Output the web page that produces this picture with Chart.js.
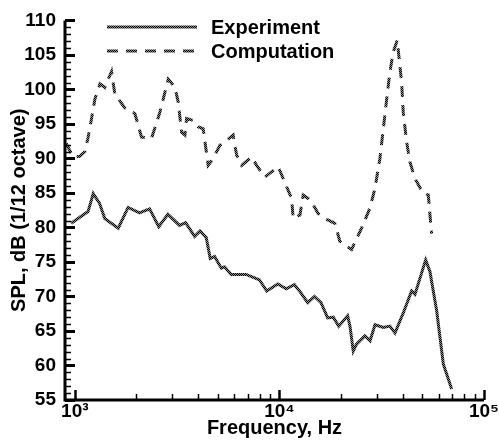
<!DOCTYPE html>
<html>
<head>
<meta charset="utf-8">
<script src="https://cdn.jsdelivr.net/npm/chart.js@4.4.1/dist/chart.umd.min.js"></script>
<style>
html, body { margin: 0; padding: 0; background: #fff; }
#wrap { width: 499px; height: 440px; }
</style>
</head>
<body>
<div id="wrap"><canvas id="chart"></canvas></div>
<script>
// values
const expLabel = 'Experiment';
const expFreq = [960, 1160, 1230, 1320, 1400, 1630, 1820, 2070, 2320, 2570,
    2850, 3250, 3480, 3850, 4100, 4390, 4590, 4820, 5200, 5390,
    5810, 6880, 7990, 8670, 9820, 10790, 11840, 12530, 13750, 14830,
    15970, 17210, 18340, 19490, 21550, 22130, 22960, 23820, 26190, 27740,
    29330, 32210, 34680, 36720, 40310, 44280, 45980, 51880, 54450, 58740,
    63300, 69500];
const expSpl = [80.6, 82.3, 84.9, 83.5, 81.3, 79.9, 82.9, 82.1, 82.7, 80.1,
    81.9, 80.3, 80.7, 78.7, 79.5, 78.5, 75.5, 75.8, 74.1, 74.3,
    73.2, 73.2, 72.4, 70.8, 71.8, 71.1, 71.7, 70.8, 69.1, 70.0,
    69.1, 66.9, 67.0, 65.7, 67.2, 65.7, 62.1, 63.1, 64.3, 63.6,
    65.9, 65.5, 65.7, 64.7, 67.6, 70.8, 70.3, 75.3, 73.6, 67.9,
    60.2, 56.6];

const compLabel = 'Computation';
const compFreq = [905, 982, 1058, 1120, 1160, 1207, 1253, 1326, 1402, 1511,
    1569, 1661, 1757, 1965, 2118, 2370, 2605, 2861, 3084, 3200,
    3325, 3452, 3518, 3789, 4006, 4240, 4485, 4748, 5118, 5410,
    5940, 6176, 6535, 7314, 7738, 8496, 9858, 10430, 11470, 11680,
    12600, 13070, 13820, 14360, 15480, 16680, 18660, 19750, 22530, 25210,
    27700, 29330, 30990, 32210, 33450, 34680, 35980, 37660, 39550, 40310,
    41860, 43460, 45980, 50470, 53460, 54450, 55480];
const compSpl = [92.2, 90.2, 90.3, 91.0, 93.0, 95.8, 98.6, 100.8, 100.3, 102.6,
    99.3, 98.3, 97.3, 96.5, 93.1, 92.9, 96.7, 101.5, 100.3, 98.2,
    93.8, 93.4, 95.8, 95.5, 94.6, 94.3, 89.0, 90.0, 91.9, 92.4,
    93.4, 90.5, 89.0, 90.2, 89.0, 87.3, 88.8, 87.1, 84.2, 81.3,
    81.8, 84.7, 84.2, 83.7, 82.0, 81.3, 80.6, 78.0, 76.8, 79.9,
    82.8, 85.7, 90.0, 94.3, 98.6, 102.5, 105.4, 107.1, 101.1, 96.7,
    92.4, 89.5, 87.1, 84.9, 84.7, 81.8, 79.1];

const yTicks = [55, 60, 65, 70, 75, 80, 85, 90, 95, 100, 105, 110];
const xTickLabels = { 1000: '10\u00B3', 10000: '10\u2074', 100000: '10\u2075' };

const tickFont = { family: 'Liberation Sans', size: 19, weight: 'bold' };
const titleFont = { family: 'Liberation Sans', size: 20, weight: 'bold' };

function zip(xs, ys) {
    return xs.map((x, i) => ({ x: x, y: ys[i] }));
}

// textured stroke like the original hatched lines
function hatch() {
    const c = document.createElement('canvas');
    c.width = 2; c.height = 2;
    const g = c.getContext('2d');
    g.fillStyle = '#000'; g.fillRect(0, 0, 2, 2);
    g.fillStyle = '#8a8a8a'; g.fillRect(1, 0, 1, 1); g.fillRect(0, 1, 1, 1);
    return g.createPattern(c, 'repeat');
}

const ctx = document.getElementById('chart').getContext('2d');
const pat = hatch();

const axesPlugin = {
    id: 'axes',
    afterDraw(chart) {
        const { ctx, chartArea: a, scales: { x, y } } = chart;
        ctx.save();
        ctx.strokeStyle = '#000';
        // y ticks (inside)
        for (let v = 55; v <= 110; v++) {
            const py = Math.round(y.getPixelForValue(v)) + 0.5;
            const major = v % 5 === 0;
            ctx.lineWidth = major ? 3 : 1.5;
            ctx.beginPath();
            ctx.moveTo(a.left, py);
            ctx.lineTo(a.left + (major ? 10 : 6), py);
            ctx.stroke();
        }
        // x ticks (inside)
        for (let e = 2; e <= 5; e++) {
            for (let m = 1; m <= 9; m++) {
                const v = m * Math.pow(10, e);
                if (v < x.min || v > x.max) continue;
                const px = Math.round(x.getPixelForValue(v)) + 0.5;
                const major = m === 1;
                ctx.lineWidth = major ? 2.5 : 1.5;
                ctx.beginPath();
                ctx.moveTo(px, a.bottom);
                ctx.lineTo(px, a.bottom - (major ? 10 : 6));
                ctx.stroke();
            }
        }
        // axis lines
        ctx.lineWidth = 3;
        ctx.beginPath();
        ctx.moveTo(a.left, a.top);
        ctx.lineTo(a.left, a.bottom);
        ctx.lineTo(a.right, a.bottom);
        ctx.stroke();

        // legend inside the plot
        const items = chart.data.datasets;
        ctx.font = 'bold 20px "Liberation Sans"';
        ctx.fillStyle = '#000';
        ctx.textBaseline = 'middle';
        items.forEach((ds, i) => {
            const ly = 27 + i * 24;
            ctx.strokeStyle = ds.borderColor;
            ctx.lineWidth = ds.borderWidth;
            ctx.setLineDash(ds.borderDash || []);
            ctx.beginPath();
            ctx.moveTo(107, ly);
            ctx.lineTo(197, ly);
            ctx.stroke();
            ctx.setLineDash([]);
            ctx.fillText(ds.label, 211, ly + 1);
        });
        ctx.restore();
    }
};

const myChart = new Chart(ctx, {
    type: 'line',
    data: {
        datasets: [{
            label: expLabel,
            data: zip(expFreq, expSpl),
            borderColor: pat,
            borderWidth: 3,
            pointRadius: 0,
            tension: 0,
            fill: false
        }, {
            label: compLabel,
            data: zip(compFreq, compSpl),
            borderColor: pat,
            borderWidth: 3,
            borderDash: [11, 8],
            pointRadius: 0,
            tension: 0,
            fill: false
        }]
    },
    options: {
        responsive: true,
        maintainAspectRatio: false,
        animation: false,
        layout: { padding: { left: 0, right: 13, top: 18, bottom: 0 } },
        plugins: {
            legend: { display: false },
            tooltip: { enabled: false }
        },
        scales: {
            x: {
                type: 'logarithmic',
                min: 895,
                max: 100000,
                grid: { display: false, drawTicks: false },
                border: { display: false },
                afterFit: s => { s.height = 40; },
                ticks: {
                    autoSkip: false,
                    maxRotation: 0,
                    padding: 0,
                    color: '#000',
                    font: tickFont,
                    callback: v => xTickLabels[v] || ''
                },
                title: {
                    display: true,
                    text: 'Frequency, Hz',
                    color: '#000',
                    font: titleFont,
                    padding: 0
                }
            },
            y: {
                min: 55,
                max: 110,
                grid: { display: false, drawTicks: false },
                border: { display: false },
                afterFit: s => { s.width = 65; },
                afterBuildTicks: s => { s.ticks = yTicks.map(v => ({ value: v })); },
                ticks: {
                    padding: 9,
                    color: '#000',
                    font: tickFont
                },
                title: {
                    display: true,
                    text: 'SPL, dB (1/12 octave)',
                    color: '#000',
                    font: titleFont,
                    padding: { top: 7, bottom: 0 }
                }
            }
        }
    },
    plugins: [axesPlugin]
});
</script>
</body>
</html>
